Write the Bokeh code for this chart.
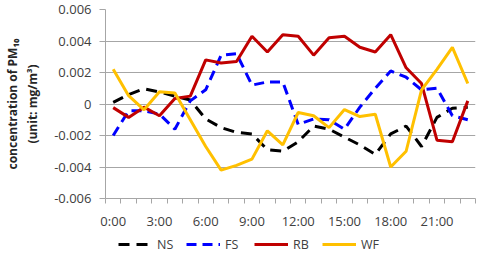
from bokeh.plotting import figure
from bokeh.models import Range1d, FixedTicker, Legend, LegendItem
from bokeh.layouts import column
from bokeh.embed import file_html
from bokeh.resources import INLINE

hours = list(range(24))
x_ticks = [0, 3, 6, 9, 12, 15, 18, 21]
x_tick_labels = ["0:00", "3:00", "6:00", "9:00", "12:00", "15:00", "18:00", "21:00"]
y_ticks = [-0.006, -0.004, -0.002, 0.0, 0.002, 0.004, 0.006]
y_tick_labels = ["-0.006", "-0.004", "-0.002", "0", "0.002", "0.004", "0.006"]

ns = [0.0001, 0.0006, 0.00097, 0.00076, 0.0005, 0.00025, -0.00095, -0.0015, -0.0018, -0.0019,
      -0.0029, -0.003, -0.0024, -0.0014, -0.0016, -0.0021, -0.0026, -0.0032, -0.0019, -0.0014,
      -0.0027, -0.00085, -0.00027, -0.0002]
fs = [-0.002, -0.00043, -0.00043, -0.00064, -0.0016, 0.0002, 0.0009, 0.0031, 0.0032, 0.0012,
      0.0014, 0.0014, -0.0013, -0.00095, -0.001, -0.0016, -0.0002, 0.001, 0.0021, 0.0017,
      0.0009, 0.001, -0.00074, -0.001]
rb = [-0.00023, -0.00085, -0.0002, -0.00075, 0.00035, 0.0005, 0.0028, 0.0026, 0.0027, 0.0043,
      0.0033, 0.0044, 0.0043, 0.0031, 0.0042, 0.0043, 0.0036, 0.0033, 0.0044, 0.0023,
      0.0013, -0.0023, -0.0024, 0.0002]
wf = [0.0022, 0.00053, -0.00037, 0.00078, 0.0007, -0.001, -0.0027, -0.0042, -0.0039, -0.0035,
      -0.0017, -0.0026, -0.00054, -0.00075, -0.0015, -0.00035, -0.0008, -0.00065, -0.004, -0.003,
      0.0009, 0.0022, 0.0036, 0.0013]

series_names = ["NS", "FS", "RB", "WF"]
series_values = [ns, fs, rb, wf]
series_colors = ["#000000", "#0000ff", "#c00000", "#ffc000"]
series_dash = ["11 7", "10 6", "solid", "solid"]

FONT = "Open Sans"
GRID = "#a6a6a6"
TXT = "#404040"
LW = 3

p = figure(width=476, height=232, output_backend="svg", toolbar_location=None,
           x_range=Range1d(-0.5, 23.5), y_range=Range1d(-0.006, 0.006),
           min_border_left=87, min_border_right=1, min_border_top=9, min_border_bottom=32)
p.outline_line_color = None

for vals, col, dash in zip(series_values, series_colors, series_dash):
    p.line(hours, vals, line_color=col, line_width=LW, line_dash=dash)

# x axis
p.xaxis.ticker = FixedTicker(ticks=x_ticks, minor_ticks=[h - 0.5 for h in hours] + [23.5])
p.xaxis.major_label_overrides = {t: l for t, l in zip(x_ticks, x_tick_labels)}
p.xaxis.major_tick_out = 0
p.xaxis.major_tick_in = 0
p.xaxis.minor_tick_out = 5
p.xaxis.minor_tick_in = 0
p.xaxis.minor_tick_line_color = GRID
p.xaxis.axis_line_color = GRID
p.xaxis.major_label_standoff = 8
p.xaxis.major_label_text_font = FONT
p.xaxis.major_label_text_font_size = "13px"
p.xaxis.major_label_text_color = TXT

# y axis
p.yaxis.ticker = FixedTicker(ticks=y_ticks, minor_ticks=[])
p.yaxis.major_label_overrides = {t: l for t, l in zip(y_ticks, y_tick_labels)}
p.yaxis.major_tick_out = 6
p.yaxis.major_tick_in = 0
p.yaxis.major_tick_line_color = GRID
p.yaxis.axis_line_color = GRID
p.yaxis.major_label_standoff = 8
p.yaxis.major_label_text_font = FONT
p.yaxis.major_label_text_font_size = "13px"
p.yaxis.major_label_text_color = TXT
p.yaxis.axis_label = "concentration of PM\u2081\u2080\n(unit: mg/m\u00b3)"
p.yaxis.axis_label_text_font = FONT
p.yaxis.axis_label_text_font_style = "bold"
p.yaxis.axis_label_text_font_size = "12px"
p.yaxis.axis_label_text_color = "#262626"
p.yaxis.axis_label_standoff = 10

p.xgrid.grid_line_color = None
p.ygrid.grid_line_color = GRID
p.ygrid.grid_line_width = 1

# legend strip below the chart (its series are drawn outside its visible range)
lg = figure(width=476, height=25, output_backend="svg", toolbar_location=None,
            x_range=Range1d(-0.5, 23.5), y_range=Range1d(1, 2),
            x_axis_type=None, y_axis_type=None,
            min_border_left=0, min_border_right=0, min_border_top=0, min_border_bottom=0)
lg.outline_line_color = None
lg.xgrid.visible = False
lg.ygrid.visible = False
items = []
for name, vals, col, dash in zip(series_names, series_values, series_colors, series_dash):
    r = lg.line(hours, vals, line_color=col, line_width=LW, line_dash=dash)
    items.append(LegendItem(label=name, renderers=[r]))
legend = Legend(items=items, orientation="horizontal", location=(13, 3), margin=0,
                glyph_width=34, label_standoff=5, spacing=9, padding=0,
                border_line_color=None, background_fill_alpha=0,
                label_text_font=FONT, label_text_font_size="12.5px", label_text_color=TXT)
lg.add_layout(legend)

layout = column(p, lg, spacing=0)
open("out.html", "w").write(file_html(layout, INLINE))
